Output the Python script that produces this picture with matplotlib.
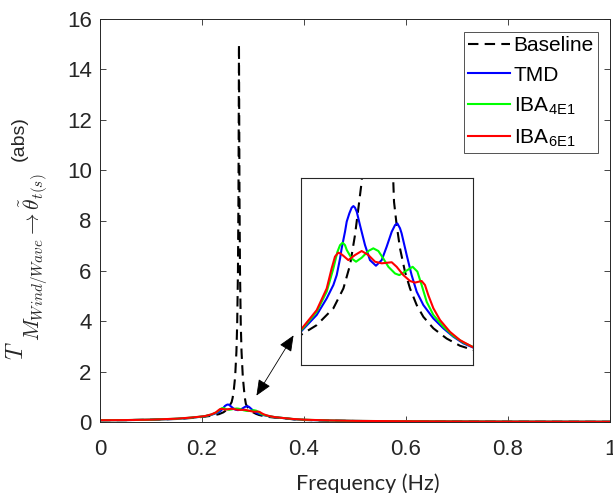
import matplotlib
matplotlib.use('Agg')
import matplotlib.pyplot as plt
from matplotlib.patches import FancyArrowPatch

plt.rcParams['font.family'] = ['Liberation Sans', 'DejaVu Sans']
plt.rcParams['mathtext.fontset'] = 'cm'

# ---- data ----
f_base = [0, 0.05, 0.1, 0.15, 0.18,
          0.205, 0.2189, 0.2334, 0.2421, 0.2479, 0.2522, 0.2551, 0.258,
          0.26, 0.2625, 0.265, 0.2675, 0.269, 0.2705, 0.2715, 0.2725,
          0.2735, 0.2745, 0.276, 0.2775, 0.28, 0.2825, 0.2845,
          0.2861, 0.2884, 0.2913, 0.2956, 0.3, 0.3058, 0.3116, 0.3203,
          0.3318, 0.3434, 0.355,
          0.38, 0.4, 0.45, 0.5, 0.6, 0.7, 0.8, 0.9, 1.0]
baseline = [0.07, 0.075, 0.09, 0.12, 0.16,
            0.212, 0.249, 0.312, 0.386, 0.474, 0.586, 0.685, 0.785,
            0.95, 1.3, 1.8, 2.8, 3.9, 6.0, 9.0, 15.0,
            9.0, 6.0, 3.9, 2.8, 1.8, 1.25, 0.9,
            0.71, 0.623, 0.536, 0.449, 0.386, 0.324, 0.28, 0.237,
            0.199, 0.172, 0.156,
            0.105, 0.08, 0.055, 0.04, 0.03, 0.02, 0.015, 0.012, 0.01]

f_tmd = [0, 0.05, 0.1, 0.15, 0.18,
         0.205, 0.2189, 0.2276, 0.2334, 0.2363, 0.2392, 0.2406, 0.2435,
         0.245, 0.2473, 0.2493, 0.2508, 0.2522, 0.2537, 0.2565, 0.2609,
         0.2652, 0.2704, 0.2754, 0.2797, 0.2841, 0.287, 0.289, 0.2913,
         0.2927, 0.2971, 0.3014, 0.3058, 0.3116, 0.3203, 0.329, 0.3376,
         0.3463, 0.355,
         0.38, 0.4, 0.45, 0.5, 0.6, 0.7, 0.8, 0.9, 1.0]
tmd = [0.07, 0.075, 0.09, 0.125, 0.17,
       0.224, 0.287, 0.349, 0.399, 0.436, 0.498, 0.536, 0.598,
       0.636, 0.667, 0.688, 0.694, 0.688, 0.673, 0.623, 0.548,
       0.492, 0.471, 0.492, 0.542, 0.598, 0.623, 0.629, 0.611,
       0.592, 0.511, 0.436, 0.374, 0.324, 0.274, 0.237, 0.206,
       0.181, 0.165,
       0.11, 0.085, 0.058, 0.042, 0.03, 0.02, 0.015, 0.012, 0.01]

f_iba4 = [0, 0.05, 0.1, 0.15, 0.18,
          0.205, 0.2189, 0.2276, 0.2334, 0.2369, 0.2392, 0.2415, 0.2435,
          0.245, 0.2493, 0.2531, 0.258, 0.2638, 0.2681, 0.2725, 0.2768,
          0.2812, 0.287, 0.2907, 0.2956, 0.3023, 0.3064, 0.3101, 0.3145,
          0.3203, 0.329, 0.3376, 0.3463, 0.355,
          0.38, 0.4, 0.45, 0.5, 0.6, 0.7, 0.8, 0.9, 1.0]
iba4 = [0.07, 0.076, 0.092, 0.13, 0.175,
        0.227, 0.299, 0.374, 0.461, 0.523, 0.548, 0.557, 0.548,
        0.53, 0.498, 0.486, 0.501, 0.526, 0.536, 0.526, 0.498,
        0.467, 0.442, 0.436, 0.449, 0.467, 0.449, 0.399, 0.336,
        0.287, 0.243, 0.209, 0.184, 0.167,
        0.115, 0.09, 0.06, 0.043, 0.03, 0.02, 0.015, 0.012, 0.01]

f_iba6 = [0, 0.05, 0.1, 0.15, 0.18,
          0.205, 0.2189, 0.2276, 0.2319, 0.2348, 0.2377, 0.2398, 0.2421,
          0.2464, 0.2522, 0.258, 0.2638, 0.2696, 0.2754, 0.2797, 0.2841,
          0.2884, 0.2942, 0.3, 0.3043, 0.3101, 0.313, 0.3159, 0.3203,
          0.3261, 0.3347, 0.3434, 0.355,
          0.38, 0.4, 0.45, 0.5, 0.6, 0.7, 0.8, 0.9, 1.0]
iba6 = [0.07, 0.076, 0.093, 0.132, 0.178,
        0.231, 0.305, 0.386, 0.461, 0.505, 0.52, 0.516, 0.508,
        0.492, 0.511, 0.526, 0.511, 0.486, 0.48, 0.482, 0.484,
        0.467, 0.436, 0.414, 0.408, 0.414, 0.399, 0.361, 0.312,
        0.268, 0.224, 0.193, 0.166,
        0.118, 0.092, 0.062, 0.044, 0.03, 0.02, 0.015, 0.012, 0.01]

labels = ['Baseline', 'TMD', r'IBA$_{\mathregular{4E1}}$', r'IBA$_{\mathregular{6E1}}$']
xticks = [0, 0.2, 0.4, 0.6, 0.8, 1]
xticklabels = ['0', '0.2', '0.4', '0.6', '0.8', '1']
yticks = [0, 2, 4, 6, 8, 10, 12, 14, 16]

axc = '#262626'
dash = (0, (5, 3))


def draw(ax):
    ax.plot(f_base, baseline, color='k', lw=1.5, ls=dash, label=labels[0])
    ax.plot(f_tmd, tmd, color='b', lw=1.5, label=labels[1])
    ax.plot(f_iba4, iba4, color=(0, 1, 0), lw=1.5, label=labels[2])
    ax.plot(f_iba6, iba6, color='r', lw=1.5, label=labels[3])


W, H = 613, 493
fig = plt.figure(figsize=(W / 100, H / 100), dpi=100)
ax = fig.add_axes([100 / W, 71 / H, 510 / W, 403 / H])
draw(ax)
ax.set_xlim(0, 1)
ax.set_ylim(0, 16)
ax.set_xticks(xticks)
ax.set_xticklabels(xticklabels)
ax.set_yticks(yticks)
ax.tick_params(direction='in', length=4, width=0.6, top=True, right=True,
               labelsize=16, colors=axc)
ax.tick_params(axis='x', pad=12)
ax.tick_params(axis='y', pad=6)
for s in ax.spines.values():
    s.set_color(axc)
    s.set_linewidth(0.7)
ax.set_xlabel('Frequency (Hz)', fontsize=15.5, family=['Lato', 'DejaVu Sans'],
              color=axc)
ax.xaxis.set_label_coords(268 / 510, -51 / 403)

# y label in pieces: T, its subscript group, and "(abs)"
fig.text(17 / W, 1 - 341 / H, r'$T$', rotation=90, ha='center', va='top',
         fontsize=17, color=axc)
fig.text(17 / W, 1 - 341 / H, r'$M_{Wind/Wave}\rightarrow\tilde{\theta}_{t(s)}$',
         rotation=90, ha='left', va='bottom', fontsize=15.5, color=axc)
fig.text(19 / W, 1 - 139 / H, '(abs)', rotation=90, ha='center', va='center',
         fontsize=14, color=axc)

leg = ax.legend(loc='upper right', bbox_to_anchor=(598 / W, 1 - 32 / H),
                bbox_transform=fig.transFigure, fontsize=15, frameon=True,
                fancybox=False, edgecolor=axc, handlelength=2.05,
                handletextpad=0.15, labelspacing=0.5, borderpad=0.2,
                borderaxespad=0)
leg.get_frame().set_linewidth(0.7)

# inset
axin = fig.add_axes([300.7 / W, 128 / H, 172.6 / W, 187.3 / H])
draw(axin)
axin.set_xlim(0.205, 0.355)
axin.set_ylim(0.1, 0.8)
axin.set_xticks([])
axin.set_yticks([])
for s in axin.spines.values():
    s.set_color(axc)
    s.set_linewidth(0.8)

# double arrow between peak region and inset
arr = FancyArrowPatch((255 / W, 1 - 398 / H), (295 / W, 1 - 333 / H),
                      transform=fig.transFigure,
                      arrowstyle='<|-|>,head_length=0.7,head_width=0.3',
                      mutation_scale=14, color='k', lw=0.6)
fig.patches.append(arr)

fig.savefig('out.png', dpi=100)
